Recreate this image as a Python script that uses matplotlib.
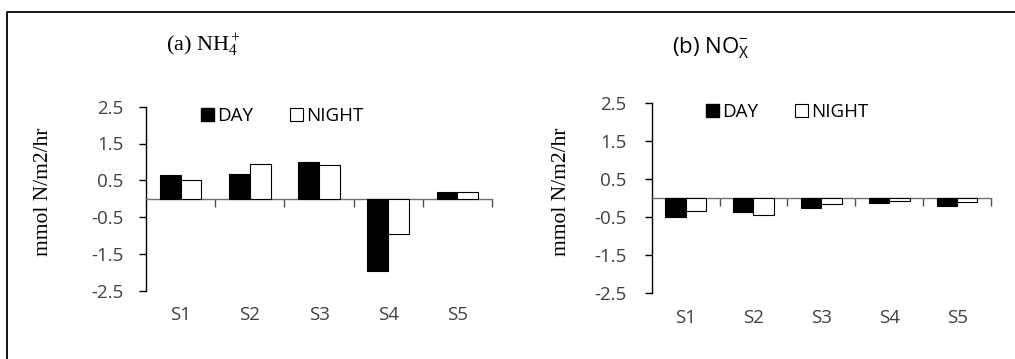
import numpy as np
import matplotlib
matplotlib.use('Agg')
import matplotlib.pyplot as plt
from matplotlib.patches import Patch
from matplotlib.lines import Line2D

# data
sites = ['S1', 'S2', 'S3', 'S4', 'S5']
nh4_day = [0.65, 0.68, 1.00, -1.97, 0.18]
nh4_night = [0.52, 0.94, 0.92, -0.97, 0.18]
nox_day = [-0.50, -0.37, -0.25, -0.13, -0.19]
nox_night = [-0.34, -0.43, -0.16, -0.07, -0.10]
yticks = [2.5, 1.5, 0.5, -0.5, -1.5, -2.5]

plt.rcParams['mathtext.fontset'] = 'custom'
plt.rcParams['mathtext.rm'] = 'Liberation Serif'
plt.rcParams['mathtext.it'] = 'Liberation Serif:italic'
plt.rcParams['mathtext.sf'] = 'Open Sans'

W, H = 1015, 359
fig = plt.figure(figsize=(W / 100, H / 100), dpi=100)

# outer frame (only top and left edges visible in the crop)
fig.add_artist(Line2D([7 / W, 7 / W, 1.0], [0.0, 1 - 12 / H, 1 - 12 / H],
                      transform=fig.transFigure, color='black', lw=1.3))

tick_color = '#404040'
sans = 'Open Sans'
fs = 13.5


def draw_panel(rect, day, night, title, title_font, title_xy, ylabel_x, pad):
    ax = fig.add_axes(rect)
    x = np.arange(len(sites))
    w = 0.3
    ax.bar(x - w / 2, day, w, color='black', edgecolor='black', lw=0.8, zorder=3)
    ax.bar(x + w / 2, night, w, color='white', edgecolor='black', lw=0.8, zorder=3)
    ax.set_xlim(-0.5, len(sites) - 0.5)
    ax.set_ylim(-2.5, 2.5)
    for s in ['top', 'right']:
        ax.spines[s].set_visible(False)
    ax.spines['left'].set_color('black')
    ax.spines['left'].set_linewidth(1.0)
    ax.spines['bottom'].set_position(('data', 0))
    ax.spines['bottom'].set_color('#707070')
    ax.spines['bottom'].set_linewidth(1.0)
    ax.set_yticks(yticks)
    ax.set_yticklabels([f'{t:.1f}' for t in yticks], fontfamily=sans,
                       fontsize=fs, color=tick_color)
    ax.tick_params(axis='y', direction='out', length=5, width=1.0, pad=pad)
    ax.set_xticks(x + 0.5)
    ax.set_xticklabels([])
    ax.tick_params(axis='x', direction='out', length=6, width=1.0, color='#505050')
    for i, s in enumerate(sites):
        ax.text(i, -0.13, s, transform=ax.get_xaxis_transform(), ha='center',
                va='center', fontfamily=sans, fontsize=fs, color=tick_color)
    handles = [Patch(facecolor='black', edgecolor='black', label='DAY'),
               Patch(facecolor='white', edgecolor='black', lw=0.8, label='NIGHT')]
    ax.legend(handles=handles, loc='upper left', bbox_to_anchor=(0.11, 1.09), ncol=2,
              frameon=False, prop={'family': sans, 'size': fs},
              handlelength=0.7, handleheight=0.7, handletextpad=0.15,
              columnspacing=2.0)
    fig.text(ylabel_x / W, 1 - 192 / H, 'mmol N/m2/hr', rotation=90,
             ha='center', va='center', fontfamily='Liberation Serif', fontsize=15.5)
    fig.text(title_xy[0] / W, 1 - title_xy[1] / H, title, ha='left', va='center',
             fontfamily=title_font, fontsize=16)
    return ax


draw_panel([146 / W, 1 - 290.7 / H, 346 / W, 184 / H], nh4_day, nh4_night,
           r'(a) NH$_4^+$', 'Liberation Serif', (166, 45), 44, 11)
draw_panel([651.7 / W, 1 - 293.3 / H, 339.3 / W, 190 / H], nox_day, nox_night,
           r'(b) NO$_\mathsf{X}^\mathsf{-}$', sans, (672, 47), 562, 13)

fig.savefig('out.png', dpi=100)
